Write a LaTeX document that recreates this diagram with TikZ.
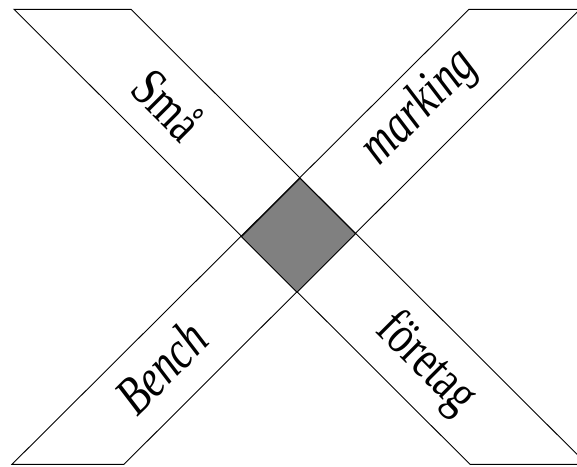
\documentclass[tikz,border=0pt]{standalone}
\usepackage{fontspec}
\setmainfont{Liberation Serif}
\newcommand{\tallword}[1]{\scalebox{1}[1.3]{#1}}
\begin{document}
\begin{tikzpicture}[x=1pt,y=-1pt,
  bandline/.style={draw=black,line width=0.9pt,line join=miter},
  centre/.style={draw=black,line width=0.9pt,fill={rgb,255:red,128;green,128;blue,128}},
  lbl/.style={font=\fontsize{42}{46}\selectfont,inner sep=0pt},
  lblit/.style={font=\fontsize{42}{46}\selectfont\itshape,inner sep=0pt}]
\useasboundingbox (0,0) rectangle (577,466);
\clip (0,0) rectangle (577,466);
% band 1 (top-left to bottom-right)
\coordinate (a1) at (14,9.3);
\coordinate (a2) at (131,9.3);
\coordinate (a3) at (587,464.3);
\coordinate (a4) at (470,464.3);
% band 2 (top-right to bottom-left)
\coordinate (b1) at (469,9.3);
\coordinate (b2) at (580,9.3);
\coordinate (b3) at (124,464.3);
\coordinate (b4) at (12,464.3);
\draw[bandline] (a1) -- (a2) -- (a3) -- (a4) -- cycle;
\draw[bandline] (b1) -- (b2) -- (b3) -- (b4) -- cycle;
% centre diamond
\coordinate (dl) at (241.5,236.8);
\coordinate (dt) at (300,178.3);
\coordinate (dr) at (355.5,233.8);
\coordinate (db) at (297,292.3);
\draw[centre] (dl) -- (dt) -- (dr) -- (db) -- cycle;
% labels
\node[lbl,rotate=-45] (sma) at (168.5,104) {\tallword{Små}};
\node[lblit,rotate=45] (mark) at (420,108) {\tallword{marking}};
\node[lblit,rotate=45] (bench) at (161,367) {\tallword{Bench}};
\node[lbl,rotate=-45] (fore) at (426,364) {\tallword{företag}};
\end{tikzpicture}
\end{document}
